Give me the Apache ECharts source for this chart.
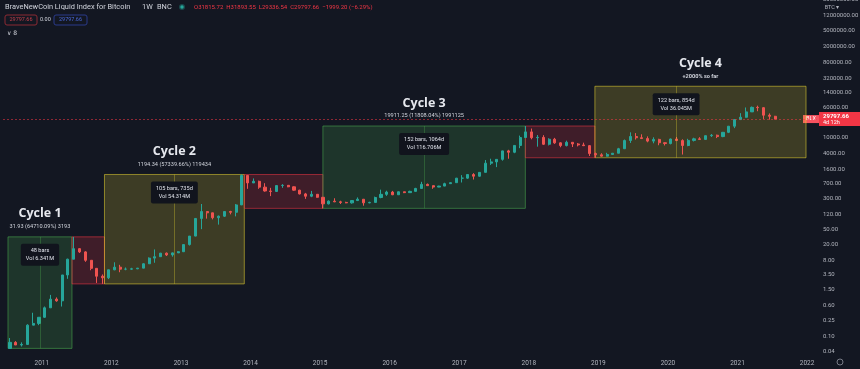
<!DOCTYPE html>
<html><head><meta charset="utf-8">
<script src="https://cdn.jsdelivr.net/npm/echarts@6/dist/echarts.min.js"></script>
<style>html,body{margin:0;padding:0;background:#131722;}#c{width:860px;height:369px;}</style>
</head><body><div id="c"></div>
<script>
// ---- data: monthly candles (BNC Bitcoin index) ----
const firstYear = 2010, firstMonth = 7; // Jul 2010 .. Jul 2021
const open = [0.0493,0.07,0.06,0.062,0.19,0.21,
0.30,0.52,0.86,0.78,3.50,8.74,16.10,13.35,8.20,5.14,3.25,2.97,
4.72,5.50,4.90,4.90,5.00,5.20,6.70,9.30,10.10,12.40,11.20,12.60,
13.50,20.40,33.40,93,139,129,97,106,139,133,204,1129,
731,803,573,458,446,627,636,584,481,386,338,378,
318,217,254,244,236,230,263,284,230,236,314,377,
430,368,437,416,448,531,673,624,575,609,700,742,
963,965,1190,1080,1350,2300,2480,2870,4700,4340,6450,10200,
14150,10100,10300,6900,9240,7490,6390,7730,7020,6630,6370,4020,
3740,3460,3820,4100,5320,8570,10820,10080,9600,8290,9150,7540,
7190,9350,8540,6420,8630,9450,9140,11350,11650,10780,13800,19700,
28990,33100,45200,58800,57700,37300,35040];
const high = [0.09,0.075,0.07,0.20,0.39,0.30,
0.56,1.10,0.95,3.50,9.00,31.93,16.50,13.90,8.20,5.20,3.60,4.75,
7.30,6.30,5.40,5.30,5.25,6.90,9.70,15.40,12.60,12.90,12.90,13.90,
20.50,33.50,95,215,140,130,110,141,145,215,1194.34,1150,
950,835,720,550,630,680,645,600,490,410,460,385,
320,265,300,260,245,265,315,285,245,330,495,465,
460,445,440,465,550,780,705,630,620,740,755,980,
1150,1200,1290,1355,2760,2980,2900,4750,5000,6470,11400,19911.25,
17200,11800,11700,9750,9990,7750,8500,7760,7400,7570,6600,4250,
4100,4200,4110,5600,9090,13800,13200,12300,10900,10350,9500,7750,
9580,10520,9190,9460,10070,10400,11470,12490,12070,14100,19860,29300,
41950,58350,61700,64850,59500,41300,35900];
const low = [0.0493,0.06,0.055,0.06,0.19,0.19,
0.29,0.52,0.74,0.56,2.80,8.74,12.50,7.50,4.60,2.20,2.08,2.75,
4.60,4.10,4.60,4.70,4.90,5.20,6.60,7.10,10.10,10.50,10.10,12.60,
13.20,19.30,33.00,50,92,88,65,101,118,105,202,520,
731,520,440,340,435,550,570,465,375,290,320,310,
167.2,210,240,215,225,220,255,195,225,235,300,345,
360,365,405,415,440,525,615,520,570,605,690,740,
750,925,890,1050,1340,2080,1830,2660,2980,4110,5500,10000,
9200,6000,6600,6450,7060,5800,6090,5880,6100,6200,3500,3150,
3370,3390,3730,4080,5300,7450,9060,9360,7740,7300,6520,6430,
6860,8460,3800,6150,8120,8900,8990,10540,9880,10400,13200,17600,
28100,32300,44950,47000,30000,28800,29300];
const close = [0.07,0.06,0.062,0.19,0.21,0.30,
0.52,0.86,0.78,3.50,8.74,16.10,13.35,8.20,5.14,3.25,2.97,4.72,
5.50,4.90,4.90,5.00,5.20,6.70,9.30,10.10,12.40,11.20,12.60,13.50,
20.40,33.40,93,139,129,97,106,139,133,204,1129,731,
803,573,458,446,627,636,584,481,386,338,378,318,
217,254,244,236,230,263,284,230,236,314,377,430,
368,437,416,448,531,673,624,575,609,700,742,963,
965,1190,1080,1350,2300,2480,2870,4700,4340,6450,10200,14150,
10100,10300,6900,9240,7490,6390,7730,7020,6630,6370,4020,3740,
3460,3820,4100,5320,8570,10820,10080,9600,8290,9150,7540,7190,
9350,8540,6420,8630,9450,9140,11350,11650,10780,13800,19700,28990,
33100,45200,58800,57700,37300,35040,29797.66];
const lastPrice = 29797.66;
const priceTicks = [30000000,12000000,5000000,2000000,800000,320000,140000,60000,10000,4000,1600,700,300,120,50,20,8,3.5,1.5,0.6,0.25,0.1,0.04];

// cycle boxes (x in fractional years, y in price)
const boxStart = [2010.513, 2011.433, 2011.900, 2013.910, 2015.040, 2017.950, 2018.950];
const boxEnd   = [2011.433, 2011.900, 2013.910, 2015.040, 2017.950, 2018.950, 2021.985];
const boxLow   = [0.0493, 2.08, 2.08, 167.2, 167.2, 3150, 3150];
const boxHigh  = [31.93, 31.93, 1194.34, 1194.34, 19911.25, 19911.25, 200000];
const boxKind  = ['green','red','yellow','red','green','red','yellow'];
const boxTitle = ['Cycle 1', '', 'Cycle 2', '', 'Cycle 3', '', 'Cycle 4'];
const boxSub   = ['31.93 (64710.09%) 3193', '', '1194.34 (57339.66%) 119434', '', '19911.25 (11808.04%) 1991125', '', '+2000% so far'];
// date-range measurements (index into boxes, end year)
const rangeBox = [0, 2, 4, 6];
const rangeEnd = [2011.433, 2013.910, 2017.950, 2021.285];
const rangeInfo = ['48 bars\nVol 6.341M', '105 bars, 735d\nVol 54.314M', '152 bars, 1064d\nVol 116.706M', '122 bars, 854d\nVol 36.045M'];

// ---- build ----
const palette = {
  green: {fill:'rgba(76,175,80,0.2)', border:'rgba(76,175,80,0.55)'},
  red: {fill:'rgba(242,54,69,0.2)', border:'rgba(242,54,69,0.55)'},
  yellow: {fill:'rgba(232,212,50,0.2)', border:'rgba(232,212,50,0.55)'}
};
const candles = open.map((o,i) => {
  const x = firstYear + (firstMonth - 1 + i + 0.5) / 12;
  return [x, o, close[i], low[i], high[i]];
});
const areaData = [];
boxStart.forEach((x0,i) => {
  const p = palette[boxKind[i]];
  const first = {coord:[x0, boxLow[i]], itemStyle:{color:p.fill, borderColor:p.border, borderWidth:1}};
  if (boxTitle[i]) {
    first.label = {show:true, position:'top', distance:5, align:'center',
      formatter:'{t|' + boxTitle[i] + '}\n{s|' + boxSub[i] + '}',
      rich:{t:{fontSize:12.5, fontWeight:'bold', color:'#e6e8ee', lineHeight:17, fontFamily:'Open Sans', align:'center'},
            s:{fontSize:5.6, color:'#d1d4dc', lineHeight:9, fontFamily:'Roboto', fontWeight: boxTitle[i]==='Cycle 4' ? 'bold':'normal', align:'center'}}};
  } else first.label = {show:false};
  areaData.push([first, {coord:[boxEnd[i], boxHigh[i]]}]);
});
const infoData = [];
const lineData = [];
rangeBox.forEach((bi,k) => {
  const x0 = boxStart[bi], x1 = rangeEnd[k];
  infoData.push([{coord:[x0, boxLow[bi]], itemStyle:{color:'rgba(0,0,0,0)', borderWidth:0},
    label:{show:true, position:'insideTop', distance:7, formatter:rangeInfo[k], color:'#e0e3eb', fontSize:5.6,
      lineHeight:8, fontFamily:'Roboto', align:'center', backgroundColor:'#11141d', padding:[3,5], borderRadius:2}},
    {coord:[x1, boxHigh[bi]]}]);
  const p = palette[boxKind[bi]];
  lineData.push([{coord:[(x0+x1)/2, boxLow[bi]], lineStyle:{color:p.border, width:1, type:'solid', opacity:0.6}}, {coord:[(x0+x1)/2, boxHigh[bi]]}]);
});
lineData.push({yAxis:lastPrice, lineStyle:{color:'#f23645', type:[2,2], width:1, opacity:0.55}});

const chart = echarts.init(document.getElementById('c'), null, {renderer:'canvas'});
const xMin = 2010.4414, xMax = 2022.1715;
chart.setOption({
  backgroundColor:'#131722',
  animation:false,
  grid:{left:0, right:41, top:0, bottom:12},
  xAxis:{type:'value', min:xMin, max:xMax, splitNumber:12,
    axisLine:{show:false}, axisTick:{show:false}, splitLine:{show:false},
    axisLabel:{color:'#b2b5be', fontSize:6.5, margin:3, fontFamily:'Roboto',
      formatter: v => Math.abs(v - Math.round(v)) < 1e-6 ? String(Math.round(v)) : ''}},
  yAxis:{type:'log', logBase:10, min:0.0299, max:2.99e7, position:'right',
    axisLine:{show:false}, axisTick:{show:false}, axisLabel:{show:false}, splitLine:{show:false}},
  series:[{
    type:'candlestick', data:candles, barWidth:2.6, z:2,
    itemStyle:{color:'#26a69a', color0:'#ef5350', borderColor:'#26a69a', borderColor0:'#ef5350', borderWidth:1},
    markArea:{silent:true, z:1, data:areaData},
    markLine:{silent:true, z:5, symbol:['none','none'], label:{show:false}, data:lineData}
  }, {
    type:'line', data:[], z:6, silent:true,
    markArea:{silent:true, z:7, data:infoData}
  }]
});

// axis tick labels and header (positions from the library's scales)
const g = [];
const yOf = v => chart.convertToPixel({yAxisIndex:0}, v);
const fmt = v => v.toFixed(2);
priceTicks.forEach(v => {
  g.push({type:'text', style:{text:fmt(v), x:823, y:yOf(v), fill:'#b2b5be', font:'6px Roboto', textAlign:'left', textVerticalAlign:'middle', verticalAlign:'middle'}});
});
const py = yOf(lastPrice);
g.push({type:'rect', shape:{x:819, y:py-7, width:41, height:14}, style:{fill:'#f23645'}});
g.push({type:'text', style:{text:fmt(lastPrice), x:823, y:py-3, fill:'#ffffff', font:'bold 6px Roboto', textVerticalAlign:'middle', verticalAlign:'middle'}});
g.push({type:'text', style:{text:'4d 12h', x:823, y:py+3.5, fill:'#ffffff', font:'5.5px Roboto', textVerticalAlign:'middle', verticalAlign:'middle'}});
g.push({type:'rect', shape:{x:803, y:py-4, width:16, height:8}, style:{fill:'#f7525f'}});
g.push({type:'text', style:{text:'BLX', x:811, y:py, fill:'#ffffff', font:'5.5px Roboto', textAlign:'center', textVerticalAlign:'middle', verticalAlign:'middle'}});
g.push({type:'text', style:{text:'BTC ▾', x:832, y:8, fill:'#b2b5be', font:'5.5px Roboto', textAlign:'center', textVerticalAlign:'middle', verticalAlign:'middle'}});
// header
g.push({type:'text', style:{text:'BraveNewCoin Liquid Index for Bitcoin', x:5, y:7, fill:'#d1d4dc', font:'7.4px Roboto', textVerticalAlign:'middle', verticalAlign:'middle'}});
g.push({type:'text', style:{text:'1W', x:142, y:7, fill:'#d1d4dc', font:'7.4px Roboto', textVerticalAlign:'middle', verticalAlign:'middle'}});
g.push({type:'text', style:{text:'BNC', x:157, y:7, fill:'#d1d4dc', font:'7.4px Roboto', textVerticalAlign:'middle', verticalAlign:'middle'}});
g.push({type:'circle', shape:{cx:182, cy:7, r:3}, style:{fill:'rgba(38,166,154,0.35)'}});
g.push({type:'circle', shape:{cx:182, cy:7, r:1.7}, style:{fill:'#26a69a'}});
g.push({type:'text', style:{text:'O31815.72  H31893.55  L29336.54  C29797.66  −1999.20 (−6.29%)', x:194, y:7, fill:'#f23645', font:'6px Roboto', textVerticalAlign:'middle', verticalAlign:'middle'}});
g.push({type:'rect', shape:{x:5, y:15, width:32, height:10, r:2}, style:{fill:'none', stroke:'#8b2a33', lineWidth:1}});
g.push({type:'text', style:{text:fmt(lastPrice), x:21, y:20, fill:'#c4404a', font:'5.5px Roboto', textAlign:'center', textVerticalAlign:'middle', verticalAlign:'middle'}});
g.push({type:'text', style:{text:'0.00', x:40, y:20, fill:'#d1d4dc', font:'5.5px Roboto', textVerticalAlign:'middle', verticalAlign:'middle'}});
g.push({type:'rect', shape:{x:54, y:15, width:33, height:10, r:2}, style:{fill:'none', stroke:'#2a3a8a', lineWidth:1}});
g.push({type:'text', style:{text:fmt(lastPrice), x:70.5, y:20, fill:'#4a68d8', font:'5.5px Roboto', textAlign:'center', textVerticalAlign:'middle', verticalAlign:'middle'}});
g.push({type:'text', style:{text:'∨ 8', x:7, y:33, fill:'#d1d4dc', font:'6px DejaVu Sans', textVerticalAlign:'middle', verticalAlign:'middle'}});
g.push({type:'circle', shape:{cx:840, cy:362, r:3}, style:{fill:'none', stroke:'#787b86', lineWidth:1}});
chart.setOption({graphic:g});
</script></body></html>
